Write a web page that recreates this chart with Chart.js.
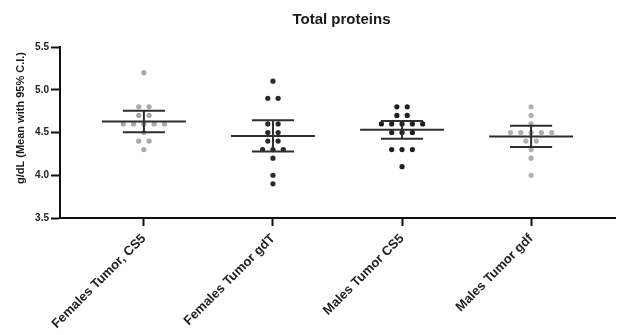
<!DOCTYPE html>
<html>
<head>
<meta charset="utf-8">
<script src="https://cdn.jsdelivr.net/npm/chart.js@4.4.1/dist/chart.umd.min.js"></script>
<style>
  html, body { margin: 0; padding: 0; background: #ffffff; }
  canvas { display: block; }
</style>
</head>
<body>
<canvas id="c" width="625" height="335"></canvas>
<script>
// ---- Data ----
const chartTitle = 'Total proteins';
const yAxisTitle = 'g/dL (Mean with 95% C.I.)';
const categories = ['Females Tumor, CS5', 'Females Tumor gdT', 'Males Tumor CS5', 'Males Tumor gdf'];
const femalesCS5 = [5.2, 4.8, 4.8, 4.7, 4.7, 4.6, 4.6, 4.6, 4.6, 4.6, 4.5, 4.4, 4.4, 4.3];
const femalesGdT = [5.1, 4.9, 4.9, 4.6, 4.6, 4.5, 4.5, 4.4, 4.4, 4.3, 4.3, 4.3, 4.2, 4.0, 3.9];
const malesCS5 = [4.8, 4.8, 4.7, 4.7, 4.6, 4.6, 4.6, 4.6, 4.6, 4.5, 4.5, 4.5, 4.3, 4.3, 4.3, 4.1];
const malesGdT = [4.8, 4.7, 4.6, 4.5, 4.5, 4.5, 4.5, 4.5, 4.4, 4.4, 4.3, 4.2, 4.0];
const yTicks = [3.5, 4.0, 4.5, 5.0, 5.5];
const groupColors = ['#a9a9a9', '#2a2a2a', '#1e1e1e', '#b0b0b0'];

const groups = [femalesCS5, femalesGdT, malesCS5, malesGdT];

// two-sided 95% t critical values by degrees of freedom
const tCrit = {10: 2.228, 11: 2.201, 12: 2.179, 13: 2.160, 14: 2.145, 15: 2.131, 16: 2.120, 17: 2.110};

function stats(vals) {
  const n = vals.length;
  const mean = vals.reduce((a, b) => a + b, 0) / n;
  const sd = Math.sqrt(vals.reduce((a, b) => a + (b - mean) * (b - mean), 0) / (n - 1));
  const half = (tCrit[n - 1] || 2.1) * sd / Math.sqrt(n);
  return { mean, lo: mean - half, hi: mean + half };
}

// spread identical values side by side (scatter dot-plot layout)
const SPREAD = 0.08;
function spreadPoints(vals, gi) {
  const counts = {};
  vals.forEach(v => { const k = v.toFixed(2); counts[k] = (counts[k] || 0) + 1; });
  const seen = {};
  return vals.map(v => {
    const k = v.toFixed(2);
    const n = counts[k];
    const i = seen[k] || 0;
    seen[k] = i + 1;
    return { x: gi + (i - (n - 1) / 2) * SPREAD, y: v };
  });
}

const datasets = groups.map((vals, gi) => ({
  label: categories[gi],
  data: spreadPoints(vals, gi),
  backgroundColor: groupColors[gi],
  borderWidth: 0,
  pointRadius: 2.6,
  pointStyle: 'circle'
}));

const groupStats = groups.map(stats);

const overlay = {
  id: 'overlay',
  afterDatasetsDraw(chart) {
    const { ctx, scales: { x, y }, chartArea } = chart;
    ctx.save();
    ctx.strokeStyle = '#2e2e2e';
    ctx.lineWidth = 2;
    groupStats.forEach((s, gi) => {
      const cx = x.getPixelForValue(gi);
      const meanHalf = x.getPixelForValue(gi + 0.325) - cx;
      const capHalf = x.getPixelForValue(gi + 0.163) - cx;
      const ym = y.getPixelForValue(s.mean);
      const yl = y.getPixelForValue(s.lo);
      const yh = y.getPixelForValue(s.hi);
      ctx.beginPath();
      ctx.moveTo(cx - meanHalf, ym); ctx.lineTo(cx + meanHalf, ym);
      ctx.moveTo(cx - capHalf, yh); ctx.lineTo(cx + capHalf, yh);
      ctx.moveTo(cx - capHalf, yl); ctx.lineTo(cx + capHalf, yl);
      ctx.moveTo(cx, yh); ctx.lineTo(cx, yl);
      ctx.stroke();
    });
    // chart title
    ctx.fillStyle = '#1a1a1a';
    ctx.font = 'bold 15px "Liberation Sans", Arial, sans-serif';
    ctx.textAlign = 'center';
    ctx.textBaseline = 'middle';
    ctx.fillText(chartTitle, (chartArea.left + chartArea.right) / 2 + 4, 20);
    // y axis title
    ctx.translate(21, 118);
    ctx.rotate(-Math.PI / 2);
    ctx.font = 'bold 11px "Liberation Sans", Arial, sans-serif';
    ctx.fillText(yAxisTitle, 0, 0);
    ctx.restore();
  }
};

new Chart(document.getElementById('c'), {
  type: 'scatter',
  data: { datasets },
  plugins: [overlay],
  options: {
    responsive: false,
    animation: false,
    devicePixelRatio: 1,
    layout: { padding: { top: 47, right: 10, left: 0, bottom: 0 } },
    plugins: { legend: { display: false }, tooltip: { enabled: false }, title: { display: false } },
    scales: {
      x: {
        type: 'linear',
        min: -0.65,
        max: 3.65,
        afterBuildTicks: s => { s.ticks = categories.map((c, i) => ({ value: i })); },
        afterFit: s => { s.height = 117; },
        ticks: {
          callback: v => categories[v],
          autoSkip: false,
          maxRotation: 45,
          minRotation: 45,
          padding: 5,
          color: '#222222',
          font: { family: '"Liberation Sans", Arial, sans-serif', weight: 'bold', size: 13 }
        },
        grid: { display: true, drawOnChartArea: false, drawTicks: true, tickLength: 8, tickWidth: 2, tickColor: '#111111' },
        border: { display: true, color: '#111111', width: 2 }
      },
      y: {
        min: 3.5,
        max: 5.5,
        afterBuildTicks: s => { s.ticks = yTicks.map(v => ({ value: v })); },
        afterFit: s => { s.width = 60; },
        ticks: {
          callback: v => Number(v).toFixed(1),
          padding: 2,
          color: '#222222',
          font: { family: '"Liberation Sans", Arial, sans-serif', weight: 'bold', size: 10 }
        },
        grid: { display: true, drawOnChartArea: false, drawTicks: true, tickLength: 9, tickWidth: 2, tickColor: '#111111' },
        border: { display: true, color: '#111111', width: 2 }
      }
    }
  }
});
</script>
</body>
</html>
